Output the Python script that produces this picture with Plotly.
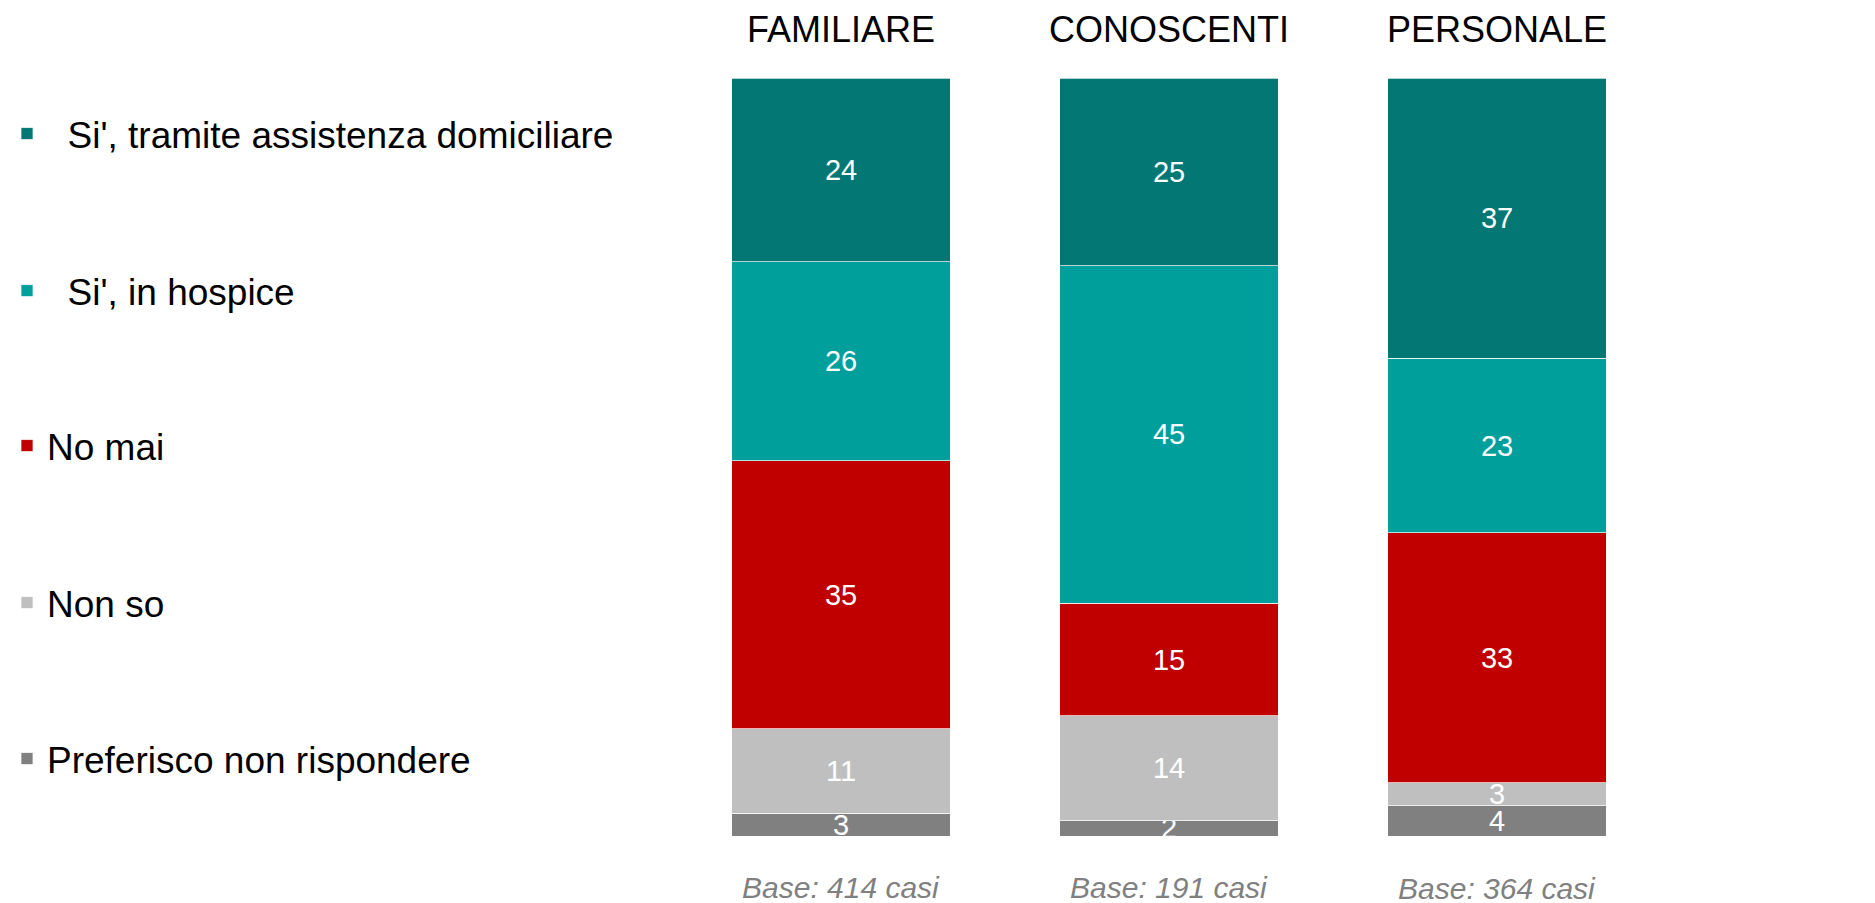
import plotly.graph_objects as go

# Survey groups (columns) and sample sizes
groups = ["FAMILIARE", "CONOSCENTI", "PERSONALE"]
bases = ["Base: 414 casi", "Base: 191 casi", "Base: 364 casi"]

# Answer categories, bottom to top of the stack
answers = [
    "Preferisco non rispondere",
    "Non so",
    "No mai",
    "\u00a0\u00a0Si', in hospice",
    "\u00a0\u00a0Si', tramite assistenza domiciliare",
]
# Percentages per group, in the same order as answers
pref_non_risp = [3, 2, 4]
non_so = [11, 14, 3]
no_mai = [35, 15, 33]
si_hospice = [26, 45, 23]
si_domiciliare = [24, 25, 37]

series = [pref_non_risp, non_so, no_mai, si_hospice, si_domiciliare]
colors = ["#808080", "#BFBFBF", "#C00000", "#009F9C", "#027773"]

# Legend rows, top to bottom (pixel centres within the 903 px page)
legend_rows = [759, 603, 446, 291, 134]
PAGE_W, PAGE_H = 1875, 903

FONT = "Liberation Sans, Arial, sans-serif"

fig = go.Figure()
for i, (name, vals, col) in enumerate(zip(answers, series, colors)):
    key = "legend" if i == 0 else f"legend{i + 1}"
    fig.add_trace(go.Bar(
        x=groups,
        y=vals,
        name=name,
        marker=dict(color=col, line=dict(color="rgba(255,255,255,0.7)", width=1)),
        text=[str(v) for v in vals],
        textposition="inside",
        insidetextanchor="middle",
        textangle=0,
        cliponaxis=True,
        textfont=dict(color="white", size=29, family=FONT),
        hoverinfo="skip",
        legend=key,
        showlegend=True,
    ))

legend_layout = {}
for i, ypix in enumerate(legend_rows):
    key = "legend" if i == 0 else f"legend{i + 1}"
    legend_layout[key] = dict(
        xref="container", yref="container",
        x=7 / PAGE_W, y=1 - ypix / PAGE_H,
        xanchor="left", yanchor="middle",
        font=dict(size=37, family=FONT, color="black"),
        bgcolor="rgba(0,0,0,0)", borderwidth=0,
        visible=True,
    )

annotations = [
    dict(
        x=g, y=0, xref="x", yref="paper",
        text=b, showarrow=False,
        yanchor="middle", yshift=-51 if j < 2 else -52,
        font=dict(size=30, family=FONT, color="#808080", style="italic"),
    )
    for j, (g, b) in enumerate(zip(groups, bases))
]

fig.update_layout(
    width=PAGE_W, height=PAGE_H,
    barmode="stack",
    barnorm="percent",
    bargap=0.333,
    showlegend=True,
    plot_bgcolor="white",
    paper_bgcolor="white",
    margin=dict(l=677, r=214, t=78, b=67, pad=0),
    uniformtext=dict(minsize=29, mode="show"),
    annotations=annotations,
    **legend_layout,
)
fig.update_xaxes(
    side="top", range=[-0.5, 2.5], showline=False, showgrid=False,
    ticks="", ticklabelstandoff=28, automargin=False,
    tickfont=dict(size=36, family=FONT, color="black"),
)
fig.update_yaxes(range=[0, 100], visible=False, showgrid=False, automargin=False)

fig.write_html("out.html")
